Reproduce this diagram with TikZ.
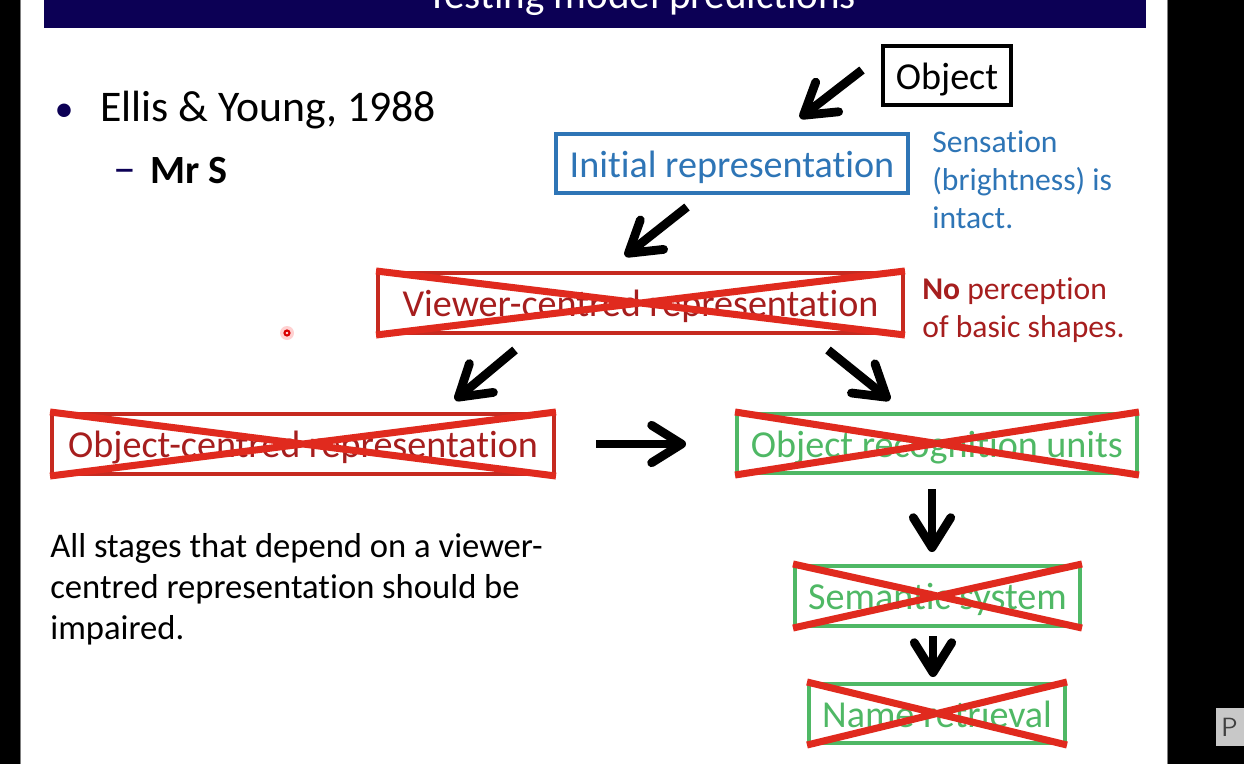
\documentclass[tikz,border=0pt]{standalone}
\usepackage{fontspec}
\setmainfont{Carlito}[Ligatures=NoCommon]
\usetikzlibrary{arrows.meta,positioning}
\definecolor{navy}{HTML}{0C0055}
\definecolor{blueacc}{HTML}{2E75B6}
\definecolor{darkred}{HTML}{A61E1E}
\definecolor{boxred}{HTML}{C62A20}
\definecolor{crossred}{HTML}{E02A1E}
\definecolor{greenacc}{HTML}{4FB865}
\definecolor{edgegrey}{HTML}{808080}
\definecolor{tabgrey}{HTML}{C8C8C8}
\definecolor{tabtext}{HTML}{404040}

\begin{document}
\begin{tikzpicture}[x=0.02cm,y=-0.02cm,every node/.style={font=\fontsize{21.7}{25}\selectfont,inner sep=0pt},box/.style={rectangle,draw,line width=2.3pt,minimum height=1.18cm,text height=18pt,text depth=2.5pt,align=center},redbox/.style={box,draw=boxred,text=darkred,minimum height=1.2cm},greenbox/.style={box,draw=greenacc,text=greenacc},xline/.style={crossred,line width=4pt},arr/.style={-{Straight Barb[length=0.6cm,width=0.75cm,round]},line width=5pt},side/.style={font=\fontsize{18}{21.5}\selectfont,align=left,anchor=north west}]
\useasboundingbox (0,0) rectangle (1244,764);
\fill[black] (0,0) rectangle (1244,764);
\fill[white] (21,0) rectangle (1167,764);
\draw[edgegrey,line width=0.6pt] (20.5,0) -- (20.5,764) (1167.5,0) -- (1167.5,764);
\fill[navy] (44,0) rectangle (1146,28);
\begin{scope}
\clip (44,0) rectangle (1146,28);
\node[text=white,anchor=base,font=\fontsize{23.4}{28}\selectfont] (title) at (642,9) {Testing model predictions};
\end{scope}
\node[text=navy,anchor=base] (bul) at (64,121) {\textbullet};
\node[anchor=base west,font=\fontsize{24.9}{30}\selectfont] (ref) at (100,121) {Ellis \& Young, 1988};
\node[text=navy,anchor=base west,font=\fontsize{26}{30}\selectfont] (dash) at (113,183) {–};
\node[anchor=base west,font=\bfseries\fontsize{22.8}{27}\selectfont] (mrs) at (150,183) {Mr S};
\node[anchor=north west,align=left,font=\fontsize{19.7}{23.5}\selectfont] (note) at (50,533) {All stages that depend on a viewer-\\centred representation should be\\impaired.};
\node[box,draw=black,minimum width=2.56cm] (obj) at (947,75.5) {Object};
\node[box,draw=blueacc,text=blueacc,minimum width=7.04cm] (init) at (732,163.5) {Initial representation};
\node[side,text=blueacc] (sens) at (932,130.5) {Sensation\\(brightness) is\\intact.};
\node[redbox,minimum width=10.5cm] (vcr) at (640.5,303) {Viewer-centred representation};
\node[side,text=darkred] (nop) at (922,277.5) {\textbf{No} perception\\of basic shapes.};
\node[redbox,minimum width=10.04cm] (ocr) at (303,444) {Object-centred representation};
\node[greenbox,minimum width=8cm] (oru) at (937,443.5) {Object recognition units};
\node[greenbox,minimum width=5.7cm,minimum height=1.2cm] (sem) at (937.5,596) {Semantic system};
\node[greenbox,minimum width=5.12cm] (nr) at (937,713.5) {Name retrieval};
\foreach \n in {vcr,ocr,oru,sem,nr} {\draw[xline] (\n.north west) -- (\n.south east) (\n.south west) -- (\n.north east);}
\coordinate (a1s) at (862,70);
\coordinate (a1e) at (800,118);
\coordinate (a2s) at (687,207);
\coordinate (a2e) at (625,256);
\coordinate (a3s) at (515,350);
\coordinate (a3e) at (455,400);
\coordinate (a4s) at (828,350);
\coordinate (a4e) at (890,400);
\coordinate (a5s) at (596,444);
\coordinate (a5e) at (686,444);
\coordinate (a6s) at (932,489);
\coordinate (a6e) at (932,552);
\coordinate (a7s) at (933,636);
\coordinate (a7e) at (933,677);
\draw[arr] (a1s) -- (a1e);
\draw[arr] (a2s) -- (a2e);
\draw[arr] (a3s) -- (a3e);
\draw[arr] (a4s) -- (a4e);
\draw[arr] (a5s) -- (a5e);
\draw[arr] (a6s) -- (a6e);
\draw[arr] (a7s) -- (a7e);
\fill[red!18] (287,333) circle (7);
\draw[red!85!black,line width=1.2pt] (287,333) circle (2.5);
\fill[tabgrey] (1216,708) rectangle (1244,746);
\node[text=tabtext,anchor=west,font=\sffamily\fontsize{15}{18}\selectfont] (tab) at (1221,727) {P};
\end{tikzpicture}
\end{document}
